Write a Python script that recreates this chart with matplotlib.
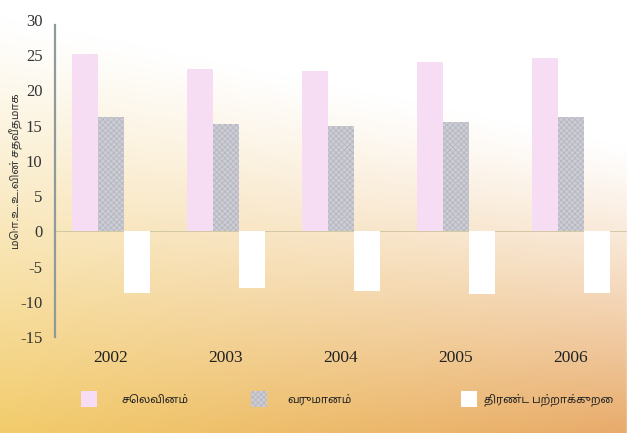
import numpy as np
import matplotlib
matplotlib.use('Agg')
import matplotlib.pyplot as plt
from matplotlib import font_manager
from matplotlib.patches import Rectangle

years = ['2002', '2003', '2004', '2005', '2006']
expenditure = [25.2, 23.0, 22.8, 24.0, 24.6]
revenue = [16.2, 15.3, 14.9, 15.5, 16.2]
deficit = [-8.8, -8.1, -8.4, -8.9, -8.8]

series_labels = ['செலவினம்', 'வருமானம்', 'திரண்ட பற்றாக்குறை']
ylabel = 'மொ.உ.உ.வின் சதவீதமாக'
yticks = [-15, -10, -5, 0, 5, 10, 15, 20, 25, 30]

# pick a font that has Tamil glyphs
installed = set(f.name for f in font_manager.fontManager.ttflist)
tamil_font = 'DejaVu Sans'
for name in ['Noto Sans Tamil', 'Hind Madurai', 'Mukta Malar', 'Catamaran',
             'Anek Tamil', 'Arima Madurai', 'Pavanam', 'Tiro Tamil']:
    if name in installed:
        tamil_font = name
        break
tamil_family = [tamil_font, 'DejaVu Sans']
serif = 'Liberation Serif'
plt.rcParams['hatch.linewidth'] = 0.6

fig = plt.figure(figsize=(6.33, 4.33), dpi=100)

# background: white at the top fading to yellow (left) / orange (right) at the bottom
h, w = 220, 320
yy = np.linspace(0, 1, h)[:, None]
xx = np.linspace(0, 1, w)[None, :]
top = np.array([1.0, 1.0, 1.0])
bl = np.array([0.95, 0.80, 0.42])
br = np.array([0.91, 0.67, 0.42])
bottom = bl * (1 - xx[..., None]) + br * xx[..., None]
y0 = 0.04 + 0.30 * xx
t = np.clip((yy - y0) / (1 - y0), 0, 1) ** 1.15
img = top * (1 - t[..., None]) + bottom * t[..., None]
bg = fig.add_axes([0, 0, 1, 1], zorder=-10)
bg.imshow(img, aspect='auto', extent=[0, 1, 0, 1], origin='upper')
bg.add_patch(Rectangle((0.99, 0), 0.01, 1, color='white', transform=bg.transAxes))
bg.axis('off')

ax = fig.add_axes([55 / 633, (433 - 337) / 433, 572 / 633, 317 / 433])
ax.patch.set_alpha(0)

x = np.arange(len(years))
bw = 0.226
ax.bar(x - bw, expenditure, bw, color='#f6ddf3', linewidth=0)
ax.bar(x, revenue, bw, color='#cdcdd5', edgecolor='#b6b6c0', hatch='xxxxxx', linewidth=0)
ax.bar(x + bw, deficit, bw, color='white', linewidth=0)
ax.axhline(0, color='#d2c8a4', linewidth=0.7, zorder=0)

ax.set_xlim(-0.487, 4.487)
ax.set_ylim(-15, 30)
ax.set_yticks(yticks)
ax.set_yticklabels([str(v) for v in yticks], family=serif, fontsize=12, color='#333333')
ax.set_xticks(x)
ax.set_xticklabels(years, family=serif, fontsize=12.5, color='#222222')
ax.tick_params(axis='y', length=0, pad=9)
ax.tick_params(axis='x', length=0, pad=9)
for s in ['top', 'right', 'bottom']:
    ax.spines[s].set_visible(False)
ax.spines['left'].set_color('#8f9a9a')
ax.spines['left'].set_linewidth(1.6)
ax.spines['left'].set_bounds(-15, 29.3)

fig.text(16 / 633, 1 - 171 / 433, ylabel, rotation=90, ha='center', va='center',
         family=tamil_family, fontsize=8, color='#333333')

# legend
leg_patch_x = [81, 251, 461]
leg_text_x = [121, 287, 484]
leg_colors = ['#f6ddf3', '#cdcdd5', 'white']
leg_hatch = [None, 'xxxxxx', None]
for px, tx, c, hh, lab in zip(leg_patch_x, leg_text_x, leg_colors, leg_hatch, series_labels):
    fig.patches.append(Rectangle((px / 633, 1 - 407 / 433), 16 / 633, 16 / 433,
                                 transform=fig.transFigure, facecolor=c,
                                 edgecolor='#b6b6c0' if hh else 'none', hatch=hh, linewidth=0))
    fig.text(tx / 633, 1 - 400 / 433, lab, ha='left', va='center',
             family=tamil_family, fontsize=8, color='#222222')

fig.savefig('out.png', dpi=100)
